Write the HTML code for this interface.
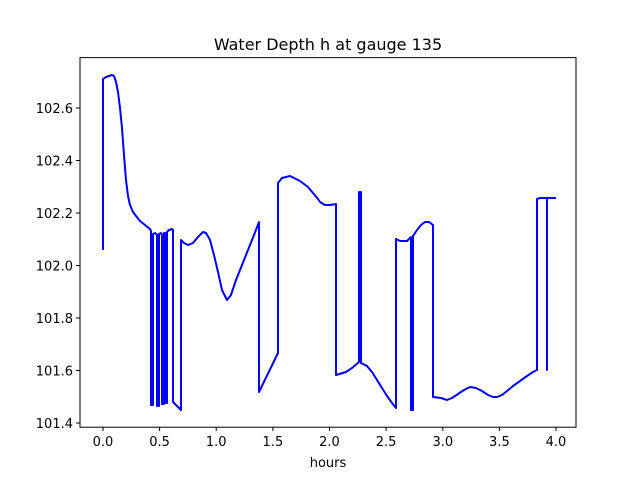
<!DOCTYPE html>
<html><head><meta charset="utf-8"><style>
body{margin:0;background:#fff}
svg{display:block;font-family:"DejaVu Sans","Liberation Sans",sans-serif}
</style></head><body>
<svg width="640" height="480" viewBox="0 0 640 480">
<rect width="640" height="480" fill="#fff"/>
<text x="328" y="50" font-size="16" text-anchor="middle">Water Depth h at gauge 135</text>
<g stroke="#000" stroke-width="1">
<line x1="103" y1="427" x2="103" y2="431"/><line x1="159.6" y1="427" x2="159.6" y2="431"/>
<line x1="216.2" y1="427" x2="216.2" y2="431"/><line x1="272.9" y1="427" x2="272.9" y2="431"/>
<line x1="329.5" y1="427" x2="329.5" y2="431"/><line x1="386.1" y1="427" x2="386.1" y2="431"/>
<line x1="442.8" y1="427" x2="442.8" y2="431"/><line x1="499.4" y1="427" x2="499.4" y2="431"/>
<line x1="556" y1="427" x2="556" y2="431"/>
<line x1="76" y1="423" x2="80" y2="423"/><line x1="76" y1="370.5" x2="80" y2="370.5"/>
<line x1="76" y1="318" x2="80" y2="318"/><line x1="76" y1="265.5" x2="80" y2="265.5"/>
<line x1="76" y1="213" x2="80" y2="213"/><line x1="76" y1="160.5" x2="80" y2="160.5"/>
<line x1="76" y1="108" x2="80" y2="108"/>
</g>
<g font-size="13" text-anchor="middle">
<text x="103" y="446">0.0</text><text x="159.6" y="446">0.5</text><text x="216.2" y="446">1.0</text>
<text x="272.9" y="446">1.5</text><text x="329.5" y="446">2.0</text><text x="386.1" y="446">2.5</text>
<text x="442.8" y="446">3.0</text><text x="499.4" y="446">3.5</text><text x="556" y="446">4.0</text>
<text x="328" y="467">hours</text>
</g>
<g font-size="13" text-anchor="end">
<text x="73" y="428">101.4</text><text x="73" y="375.5">101.6</text><text x="73" y="323">101.8</text>
<text x="73" y="270.5">102.0</text><text x="73" y="218">102.2</text><text x="73" y="165.5">102.4</text>
<text x="73" y="113">102.6</text>
</g>
<polyline fill="none" stroke="#0000ff" stroke-width="2" stroke-linejoin="round" points="
103,250 103,79 106,77 109,76 112,75 114,76 116,82 118,92 120,108 122,128 124,155 126,180 128,196 130,205 133,212 136,216 140,221 145,225 150,229
151,231 151,405 153,405 153,234 155,233 157,235 157,406 159,406 159,234 161,233 162,235 162,404 164,404 164,233 165,233 166,234 166,403 167,403 167,232 169,230 172,229 173,230 173,402 181,410 181,240 184,243 188,245 193,243 198,237 203,232 206,233 210,240 214,255 218,272 222,290 227,300 231,295 236,280 242,265 248,250 254,235 259,222 259,392 278,353 278,183 282,178 290,176 300,181 308,187 313,193 318,199 320,202 325,205 330,205 336,204 336,375 346,372 352,368 359,362 359,192 361,192 361,363 367,366 372,372 377,380 382,388 387,396 392,403 396,408 396,239 400,241 407,241 411,237 411,410 413,410 413,236 417,230 421,225 425,222 429,222 433,225 433,397 441,398 447,400 452,398 458,394 464,390 470,387 476,388 482,391 488,395 493,397 497,397 502,395 507,391 513,386 520,381 527,376 533,372 537,370 537,199 540,198 547,198 547,370 547,198 553,198 556,198"/>
<rect x="80" y="57.6" width="496" height="369.6" fill="none" stroke="#000" stroke-width="1"/>
</svg>
</body></html>
